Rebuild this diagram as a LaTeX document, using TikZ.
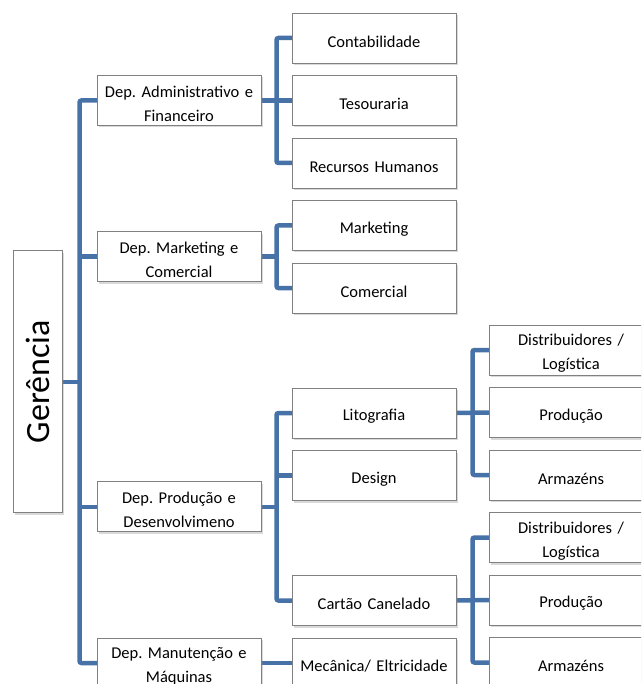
\documentclass[tikz,border=0pt]{standalone}
\usepackage{fontspec}
\setmainfont{Carlito}
\usepackage{xcolor}
\usetikzlibrary{positioning, calc, shadows, backgrounds}
\definecolor{linkblue}{RGB}{70,114,168}

\begin{document}
\frenchspacing
\begin{tikzpicture}[
  x=1pt, y=1pt,
  node distance = 12.5pt and 31pt,
  box/.style = {
    rectangle, draw=black!50, fill=white, line width=0.8pt,
    text width=156pt, align=center, outer sep=0pt,
    inner xsep=4pt, inner ysep=0pt, minimum height=50pt,
    font=\fontsize{16.5}{24}\selectfont,
    execute at begin node={\rule{0pt}{18.5pt}},
    drop shadow={shadow xshift=1.5pt, shadow yshift=-2pt, opacity=0.3}
  },
  rootbox/.style = {
    box, text width=41pt, minimum height=262pt,
    execute at begin node={},
    font=\fontsize{34}{40}\selectfont
  },
  link/.style = {linkblue, line width=4.5pt, rounded corners=2pt}
]
\useasboundingbox (0,0) rectangle (641,-684);
\clip (0,0) rectangle (641,-684);

% second level
\node[box] (cont) at (374,-38) {Contabilidade};
\node[box, below=of cont] (tes)  {Tesouraria};
\node[box, below=of tes]  (rh)   {Recursos Humanos};
\node[box, below=of rh]   (mark) {Marketing};
\node[box, below=of mark] (com)  {Comercial};
\node[box, below=75pt of com] (lito) {Litografia};
\node[box, below=of lito] (des)  {Design};
\node[box, below=75pt of des] (cart) {Cartão Canelado};
\node[box, below=of cart] (mec)  {Mecânica/ Eltricidade};

% third level
\node[box, below right=12pt and 33pt of com] (dist1) {Distribuidores /\\Logística};
\node[box, below=of dist1] (prod1) {Produção};
\node[box, below=of prod1] (arm1)  {Armazéns};
\node[box, below=of arm1]  (dist2) {Distribuidores /\\Logística};
\node[box, below=of dist2] (prod2) {Produção};
\node[box, below=of prod2] (arm2)  {Armazéns};

% departments
\node[box, left=of tes] (adm) {Dep. Administrativo e\\Financeiro};
\coordinate (mkmid) at ($(mark.west)!0.5!(com.west)$);
\node[box, left=of mkmid] (mkt) {Dep. Marketing e\\Comercial};
\coordinate (prmid) at ($(lito.west)!0.5!(cart.west)$);
\node[box, left=of prmid] (prd) {Dep. Produção e\\Desenvolvimeno};
\node[box, left=of mec] (man) {Dep. Manutenção e\\Máquinas};

% root
\coordinate (gmid) at ($(adm.west)!0.5!(man.west)$);
\node[rootbox, left=35pt of gmid] (ger) {\rotatebox{90}{Gerência}};

\coordinate (s0) at ($(ger.east)!0.5!(adm.west |- ger.east)$);
\coordinate (s1) at ($(adm.east)!0.5!(tes.west)$);
\coordinate (s2) at ($(com.east)!0.5!(dist1.west |- com.east)$);

\begin{scope}[on background layer]
  \draw[link] (ger.east) -- (s0);
  \draw[link] (adm.west) -| (s0) |- (man.west);
  \draw[link] (mkt.west -| s0) -- (mkt.west);
  \draw[link] (prd.west -| s0) -- (prd.west);

  \draw[link] (adm.east) -- (tes.west);
  \draw[link] (cont.west) -| (s1) |- (rh.west);
  \draw[link] (mkt.east) -- (s1 |- mkt);
  \draw[link] (mark.west) -| (s1 |- mkt) |- (com.west);
  \draw[link] (prd.east) -- (s1 |- prd);
  \draw[link] (lito.west) -| (s1 |- prd) |- (cart.west);
  \draw[link] (des.west) -- (s1 |- des);
  \draw[link] (man.east) -- (mec.west);

  \draw[link] (lito.east) -- (prod1.west);
  \draw[link] (dist1.west) -| (s2 |- lito) |- (arm1.west);
  \draw[link] (cart.east) -- (prod2.west);
  \draw[link] (dist2.west) -| (s2 |- cart) |- (arm2.west);
\end{scope}
\end{tikzpicture}
\end{document}
